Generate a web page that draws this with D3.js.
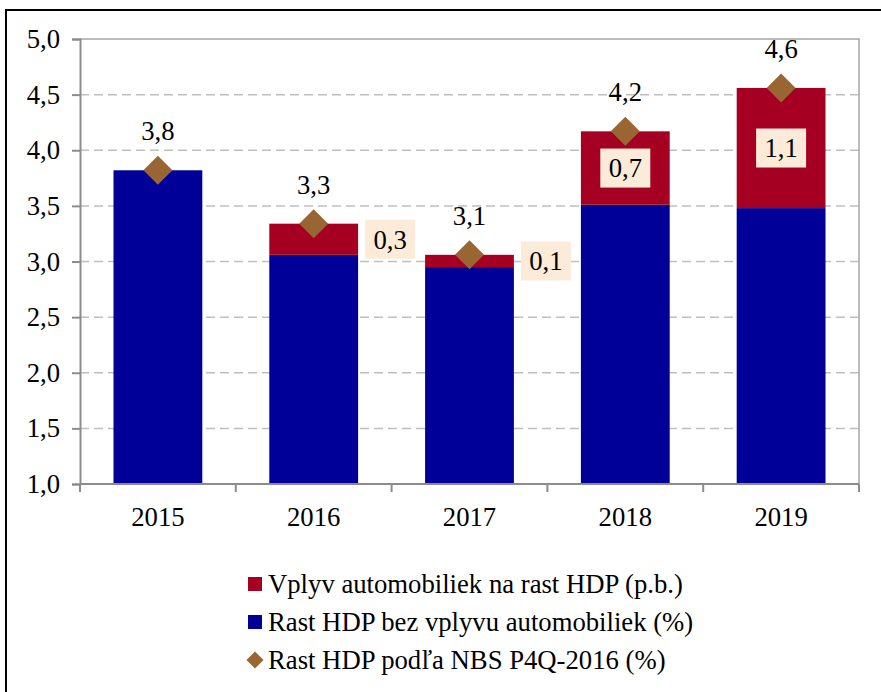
<!DOCTYPE html>
<html>
<head>
<meta charset="utf-8">
<script src="https://cdn.jsdelivr.net/npm/d3@7"></script>
<style>
  html, body { margin: 0; padding: 0; background: #fff; }
  svg { display: block; }
  text { font-family: "Liberation Serif", "Times New Roman", serif; fill: #000; }
</style>
</head>
<body>
<svg id="chart" width="881" height="692"></svg>
<script>
// GDP growth decomposition, 2015–2019
const years = ["2015", "2016", "2017", "2018", "2019"];
const baseGrowth = [3.82, 3.06, 2.95, 3.51, 3.48];   // Rast HDP bez vplyvu automobiliek (%)
const carImpact  = [0.00, 0.28, 0.11, 0.66, 1.08];   // Vplyv automobiliek na rast HDP (p.b.)
const forecast   = [3.82, 3.34, 3.06, 4.17, 4.56];   // Rast HDP podľa NBS P4Q-2016 (%)
const yTicks = [1.0, 1.5, 2.0, 2.5, 3.0, 3.5, 4.0, 4.5, 5.0];
const legendLabels = [
  "Vplyv automobiliek na rast HDP (p.b.)",
  "Rast HDP bez vplyvu automobiliek (%)",
  "Rast HDP podľa NBS P4Q-2016 (%)"
];

const BLUE = "#000099", RED = "#A50021", BROWN = "#996633", BOX = "#FDEBD9";
const FS = 26.7;
const fmt = v => d3.format(".1f")(v).replace(".", ",");

const svg = d3.select("#chart");
const plot = { left: 80, right: 859, top: 39, bottom: 484 };

const x = d3.scaleBand().domain(years)
  .range([plot.left, plot.right]).paddingInner(0.43).paddingOuter(0.215);
const y = d3.scaleLinear().domain([1, 5]).range([plot.bottom, plot.top]);

// outer frame
svg.append("rect").attr("x", 6).attr("y", 10).attr("width", 900).attr("height", 700)
  .attr("fill", "none").attr("stroke", "#000").attr("stroke-width", 2);

// dashed grid
svg.append("g").selectAll("line").data(yTicks.filter(t => t > 1 && t < 5)).join("line")
  .attr("x1", plot.left).attr("x2", plot.right)
  .attr("y1", d => y(d)).attr("y2", d => y(d))
  .attr("stroke", "#BFBFBF").attr("stroke-width", 1.5).attr("stroke-dasharray", "9,5");

// plot border top/right
svg.append("path")
  .attr("d", `M${plot.left},${y(5)}H${plot.right}V${plot.bottom}`)
  .attr("fill", "none").attr("stroke", "#A6A6A6").attr("stroke-width", 1.5);

// stacked bars
const bars = svg.append("g");
bars.selectAll("rect.base").data(years).join("rect").attr("class", "base")
  .attr("x", d => x(d)).attr("width", x.bandwidth())
  .attr("y", (d, i) => y(baseGrowth[i]))
  .attr("height", (d, i) => y(1) - y(baseGrowth[i]))
  .attr("fill", BLUE);
bars.selectAll("rect.car").data(years).join("rect").attr("class", "car")
  .attr("x", d => x(d)).attr("width", x.bandwidth())
  .attr("y", (d, i) => y(baseGrowth[i] + carImpact[i]))
  .attr("height", (d, i) => y(baseGrowth[i]) - y(baseGrowth[i] + carImpact[i]))
  .attr("fill", RED)
  .style("display", (d, i) => carImpact[i] > 0 ? null : "none");

// y axis
const yAxis = svg.append("g").attr("transform", `translate(${plot.left},0)`)
  .call(d3.axisLeft(y).tickValues(yTicks).tickFormat(fmt).tickSize(8).tickPadding(12));
yAxis.attr("font-family", null).attr("font-size", null);
yAxis.select(".domain").attr("stroke", "#8C8C8C").attr("stroke-width", 2);
yAxis.selectAll(".tick line").attr("stroke", "#8C8C8C").attr("stroke-width", 2);
yAxis.selectAll(".tick text").attr("font-size", FS).attr("fill", "#000");

// x axis with ticks on category boundaries
const xAxisG = svg.append("g").attr("transform", `translate(0,${plot.bottom})`);
xAxisG.append("line").attr("x1", plot.left).attr("x2", plot.right)
  .attr("stroke", "#8C8C8C").attr("stroke-width", 2);
const step = x.step();
xAxisG.selectAll("line.tk").data(d3.range(years.length + 1)).join("line").attr("class", "tk")
  .attr("x1", i => plot.left + i * step).attr("x2", i => plot.left + i * step)
  .attr("y1", 0).attr("y2", 8).attr("stroke", "#8C8C8C").attr("stroke-width", 2);
xAxisG.selectAll("text").data(years).join("text")
  .attr("x", d => x(d) + x.bandwidth() / 2).attr("y", 42)
  .attr("text-anchor", "middle").attr("font-size", FS).text(d => d);

// forecast diamonds
const dSize = 14.5;
const diamondPath = r => `M0,${-r}L${r},0L0,${r}L${-r},0Z`;
svg.append("g").selectAll("path").data(years).join("path")
  .attr("transform", (d, i) => `translate(${x(d) + x.bandwidth() / 2},${y(forecast[i])})`)
  .attr("d", diamondPath(dSize)).attr("fill", BROWN);

// total labels
svg.append("g").selectAll("text").data(years).join("text")
  .attr("x", d => x(d) + x.bandwidth() / 2)
  .attr("y", (d, i) => y(forecast[i]) - 30)
  .attr("text-anchor", "middle").attr("font-size", FS)
  .text((d, i) => fmt(forecast[i]));

// car impact labels in boxes (outside when the segment is thin)
const boxW = 50, boxH = 39;
const boxes = svg.append("g").selectAll("g").data(years.map((d, i) => ({ d, i })).filter(o => carImpact[o.i] > 0))
  .join("g")
  .attr("transform", o => {
    const mid = y(baseGrowth[o.i] + carImpact[o.i] / 2);
    const inside = carImpact[o.i] >= 0.4;
    const cx = inside ? x(o.d) + x.bandwidth() / 2 : x(o.d) + x.bandwidth() + 32;
    return `translate(${cx},${mid})`;
  });
boxes.append("rect").attr("x", -boxW / 2).attr("y", -boxH / 2)
  .attr("width", boxW).attr("height", boxH).attr("fill", BOX);
boxes.append("text").attr("text-anchor", "middle").attr("dy", "0.35em")
  .attr("font-size", FS).text(o => fmt(carImpact[o.i]));

// legend
const legend = svg.append("g").attr("transform", "translate(248,0)");
const rows = [584, 622, 660];
legendLabels.forEach((lab, k) => {
  const g = legend.append("g").attr("transform", `translate(0,${rows[k]})`);
  if (k < 2) {
    g.append("rect").attr("x", 0).attr("y", -7).attr("width", 14).attr("height", 14)
      .attr("fill", k === 0 ? RED : BLUE);
  } else {
    g.append("path").attr("transform", "translate(7,0)").attr("d", diamondPath(8.5)).attr("fill", BROWN);
  }
  g.append("text").attr("x", 20).attr("dy", "0.35em").attr("font-size", FS).text(lab);
});
</script>
</body>
</html>
